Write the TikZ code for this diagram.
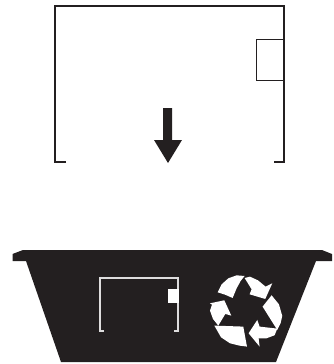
\documentclass[tikz,border=0pt]{standalone}
\definecolor{binblack}{HTML}{231F20}
\tikzset{
  frameline/.style={draw=binblack, line width=2.5pt},
  thinline/.style={draw=binblack, line width=1pt},
  binshape/.style={fill=binblack},
  whiteline/.style={draw=white!85!binblack, line width=1.2pt},
  whitefill/.style={fill=white}
}
\begin{document}
\begin{tikzpicture}[x=1pt, y=-1pt]
  \useasboundingbox (0,0) rectangle (334,364);
  % Frame
  \draw[frameline] (66,162) -- (55,162) -- (55,6) -- (284,6) -- (284,162) -- (274,162);
  \draw[thinline] (284,39.5) -- (256.5,39.5) -- (256.5,80) -- (284,80);
  % Arrow
  \fill[binshape] (163,108) -- (172,108) -- (172,140) -- (182,140)
    -- (168,163) -- (154,140) -- (163,140) -- cycle;
  % Bin
  \fill[binshape] (12.5,261) -- (12.5,254) -- (23,250) -- (322,250) -- (332,254)
    -- (332,261) -- (316,261) -- (276,362) -- (61,362) -- (26,261) -- cycle;
  % Small frame
  \draw[whiteline] (104,331) -- (100,331) -- (100,278) -- (178,278) -- (178,331) -- (174,331);
  \fill[whitefill] (168,289) rectangle (178.5,303);
  % Recycling arrows
  \begin{scope}[shift={(200,270)}, x=0.333pt, y=-0.333pt]
    \fill[whitefill] (53,67) -- (65,43) -- (85,25) -- (110,16) -- (134,18) -- (122,33)
      -- (110,55) -- (98,84) -- (75,74) -- cycle;
    \fill[whitefill] (134,24) -- (150,20) -- (174,31) -- (197,50) -- (217,40) -- (196,87)
      -- (149,73) -- (155,58) -- cycle;
    \fill[whitefill] (188,110) -- (215,76) -- (237,103) -- (247,138) -- (242,160)
      -- (232,180) -- cycle;
    \fill[whitefill] (172,150) -- (179,170) -- (232,176) -- (224,196) -- (200,205)
      -- (176,205) -- (179,230) -- (146,190) -- cycle;
    \fill[whitefill] (30,100) -- (73,91) -- (94,137) -- (76,132) -- (55,167) -- (39,147)
      -- (30,122) -- (36,104) -- cycle;
    \fill[whitefill] (43,167) -- (130,170) -- (141,230) -- (118,227) -- (90,220)
      -- (63,202) -- cycle;
  \end{scope}
\end{tikzpicture}
\end{document}
